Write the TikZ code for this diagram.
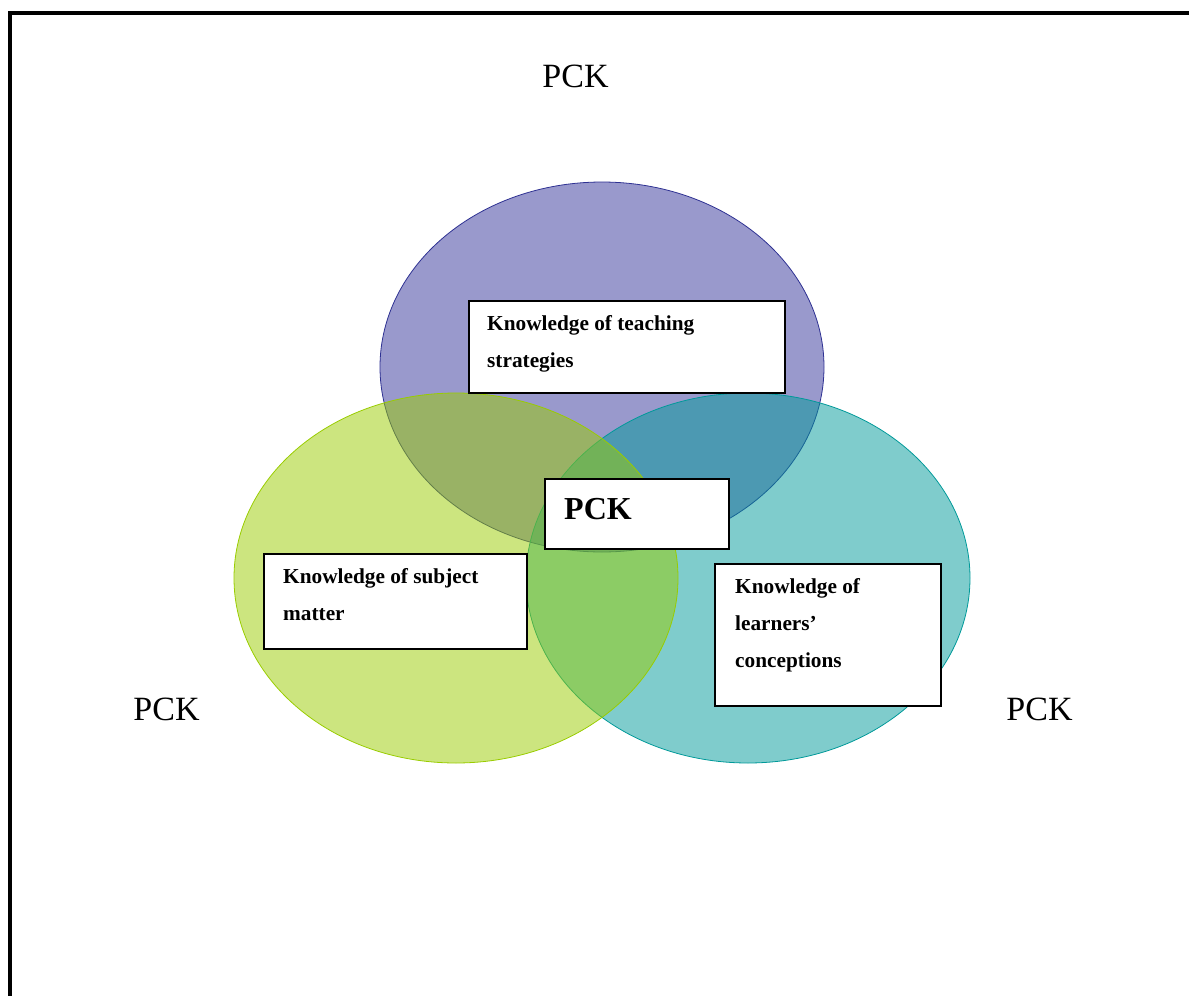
\documentclass[tikz,border=0pt]{standalone}
\usepackage{fontspec}
\setmainfont{Liberation Serif}
\definecolor{purp}{HTML}{333399}
\definecolor{purpline}{HTML}{2E3192}
\definecolor{lime}{HTML}{99CC00}
\definecolor{limeline}{HTML}{99CC00}
\definecolor{teal2}{HTML}{009999}
\definecolor{tealline}{HTML}{009999}
\begin{document}
\begin{tikzpicture}[x=1pt,y=-1pt,
  kbox/.style={draw=black, line width=2pt, fill=white, rectangle, inner sep=0pt, anchor=north west},
  ktext/.style={font=\fontsize{21.3}{37}\selectfont\bfseries, anchor=base west, inner sep=0pt},
  plabel/.style={font=\fontsize{34}{40}\selectfont, anchor=base, inner sep=0pt},
  vennset/.style={fill opacity=0.5, line width=0.8pt}]
\useasboundingbox (0,0) rectangle (1189,996);
\draw[line width=4pt] (9.5,1010) -- (9.5,13) -- (1200,13);
% Venn ellipses
\path[vennset, draw=purpline, fill=purp] (602,367) ellipse [x radius=222pt, y radius=185pt];
\path[vennset, draw=tealline, fill=teal2] (748,578) ellipse [x radius=222pt, y radius=185pt];
\path[vennset, draw=limeline, fill=lime] (456,578) ellipse [x radius=222pt, y radius=185pt];
% labels
\node[plabel] (ptop) at (575.5,87) {PCK};
\node[plabel] (pleft) at (166.5,720) {PCK};
\node[plabel] (pright) at (1039.5,720) {PCK};
% boxes
\node[kbox, minimum width=316pt, minimum height=92pt] (teach) at (468,300) {};
\node[kbox, minimum width=263pt, minimum height=95pt] (subj) at (263,553) {};
\node[kbox, minimum width=226pt, minimum height=142pt] (learn) at (714,563) {};
\node[kbox, minimum width=184pt, minimum height=70pt] (pckbox) at (544,478) {};
% texts
\node[ktext] (teach1) at (487,330) {Knowledge of teaching};
\node[ktext] (teach2) at (487,367) {strategies};
\node[ktext] (subj1) at (283,583) {Knowledge of subject};
\node[ktext] (subj2) at (283,620) {matter};
\node[ktext] (learn1) at (735,593) {Knowledge of};
\node[ktext] (learn2) at (735,630) {learners’};
\node[ktext] (learn3) at (735,667) {conceptions};
\node[ktext, font=\fontsize{32}{38}\selectfont\bfseries] (pckc) at (564,519) {PCK};
\end{tikzpicture}
\end{document}
